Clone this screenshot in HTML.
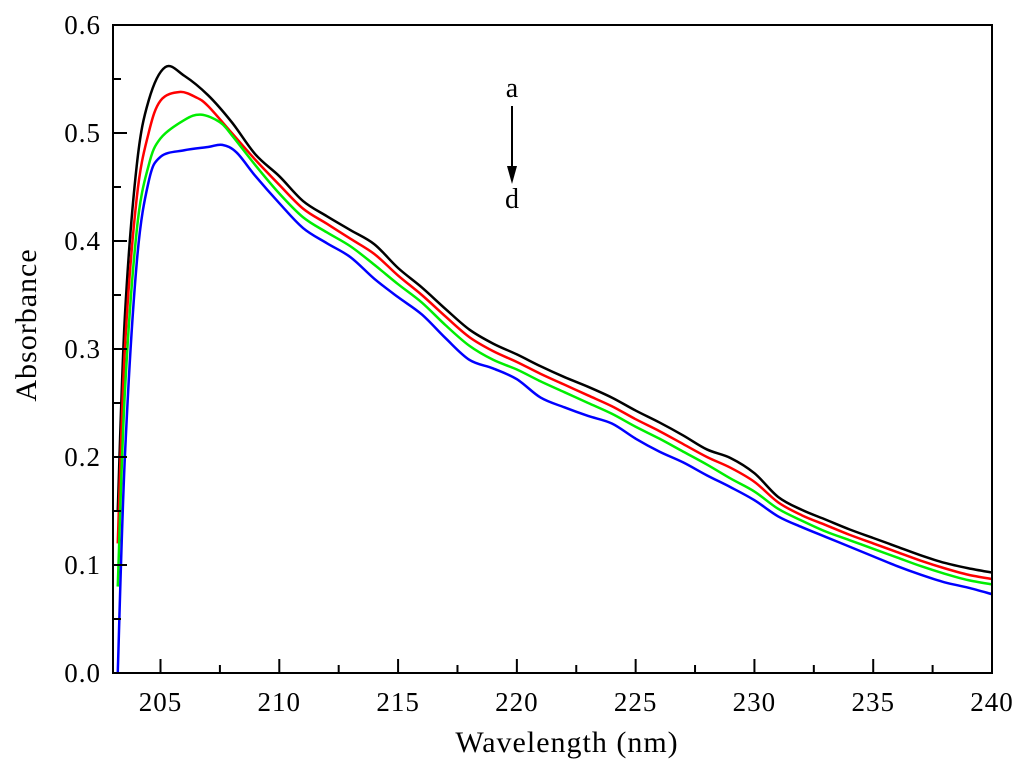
<!DOCTYPE html>
<html><head><meta charset="utf-8"><style>
body{margin:0;background:#fff;}
svg{display:block;font-family:"Liberation Serif",serif;}
</style></head><body>
<svg id="chart" width="1024" height="772" viewBox="0 0 1024 772">
<g id="series"></g>
<g id="axes"></g>
<text x="512" y="97" font-size="28" text-anchor="middle">a</text>
<line x1="512" y1="106" x2="512" y2="170" stroke="#000" stroke-width="2"/>
<polygon points="507,166 517,166 512,184" fill="#000"/>
<text x="512" y="208" font-size="28" text-anchor="middle">d</text>
<text x="567" y="752" font-size="30" letter-spacing="1" text-anchor="middle">Wavelength (nm)</text>
<text transform="translate(36,325) rotate(-90)" font-size="30" letter-spacing="1" text-anchor="middle">Absorbance</text>
</svg>
<script>
const xTicks=[205,210,215,220,225,230,235,240];
const yTicks=[0.0,0.1,0.2,0.3,0.4,0.5,0.6];
const xsA=[203.2,203.5,204,204.5,205.2,206,207,208,209,210,211,212,213,214,215,216,217,218,219,220,221,222,223,224,225,226,227,228,229,230,231,232,233,234,235,236,237,238,239,240];
const ysA=[0.15,0.33,0.47,0.53,0.561,0.553,0.535,0.51,0.48,0.46,0.437,0.423,0.41,0.397,0.375,0.357,0.337,0.318,0.305,0.295,0.284,0.274,0.265,0.255,0.243,0.232,0.22,0.207,0.199,0.185,0.163,0.151,0.142,0.133,0.125,0.117,0.109,0.102,0.097,0.093];
const xsB=[203.2,203.5,204,204.5,205,205.8,206.5,207,208,209,210,211,212,213,214,215,216,217,218,219,220,221,222,223,224,225,226,227,228,229,230,231,232,233,234,235,236,237,238,239,240];
const ysB=[0.12,0.3,0.44,0.5,0.53,0.538,0.533,0.525,0.5,0.475,0.452,0.43,0.416,0.402,0.388,0.368,0.35,0.33,0.311,0.298,0.288,0.277,0.267,0.257,0.247,0.235,0.224,0.212,0.2,0.19,0.177,0.158,0.146,0.137,0.128,0.12,0.112,0.104,0.097,0.091,0.087];
const xsC=[203.2,203.5,204,204.5,205,206,206.7,207.5,208,209,210,211,212,213,214,215,216,217,218,219,220,221,222,223,224,225,226,227,228,229,230,231,232,233,234,235,236,237,238,239,240];
const ysC=[0.08,0.26,0.41,0.47,0.495,0.512,0.517,0.51,0.498,0.47,0.444,0.422,0.408,0.395,0.378,0.36,0.343,0.322,0.303,0.29,0.281,0.27,0.26,0.25,0.24,0.228,0.217,0.205,0.193,0.18,0.168,0.152,0.141,0.131,0.123,0.115,0.107,0.099,0.092,0.086,0.082];
const xsD=[203.2,203.5,204,204.5,205,206,207,207.6,208.2,209,210,211,212,213,214,215,216,217,218,219,220,221,222,223,224,225,226,227,228,229,230,231,232,233,234,235,236,237,238,239,240];
const ysD=[0.0,0.2,0.38,0.455,0.478,0.484,0.487,0.489,0.482,0.46,0.435,0.412,0.398,0.385,0.365,0.348,0.332,0.31,0.29,0.282,0.272,0.255,0.246,0.238,0.231,0.217,0.205,0.195,0.183,0.172,0.16,0.145,0.135,0.126,0.117,0.108,0.099,0.091,0.084,0.079,0.073];
const L=113,R=992,T=25,B=673,X0=203,X1=240,Y0=0,Y1=0.6;
const sx=v=>L+(v-X0)/(X1-X0)*(R-L);
const sy=v=>B-(v-Y0)/(Y1-Y0)*(B-T);
const NS='http://www.w3.org/2000/svg';
function mk(t,a,p){const e=document.createElementNS(NS,t);for(const k in a)e.setAttribute(k,a[k]);p.appendChild(e);return e;}
function pathD(xs,ys){const p=xs.map((x,i)=>[sx(x),sy(ys[i])]);let d='M'+p[0][0]+','+p[0][1];
for(let i=0;i<p.length-1;i++){const p0=p[Math.max(0,i-1)],p1=p[i],p2=p[i+1],p3=p[Math.min(p.length-1,i+2)];
const c1=[p1[0]+(p2[0]-p0[0])/6,p1[1]+(p2[1]-p0[1])/6],c2=[p2[0]-(p3[0]-p1[0])/6,p2[1]-(p3[1]-p1[1])/6];
d+=`C${c1[0]},${c1[1]} ${c2[0]},${c2[1]} ${p2[0]},${p2[1]}`;}return d;}
const sg=document.getElementById('series');
const S=[[xsA,ysA,'#000','series-a'],[xsB,ysB,'#ff0000','series-b'],[xsC,ysC,'#00ee00','series-c'],[xsD,ysD,'#0000ff','series-d']];
S.forEach(s=>{const e=mk('path',{d:pathD(s[0],s[1]),fill:'none',stroke:s[2],'stroke-width':2.5},sg);

});
const ax=document.getElementById('axes');
const fr=mk('rect',{x:L,y:T,width:R-L,height:B-T,fill:'none',stroke:'#000','stroke-width':2},ax);


xTicks.forEach(v=>{const x=sx(v);mk('line',{x1:x,x2:x,y1:B,y2:B-14,stroke:'#000','stroke-width':2},ax);
const m=sx(v-2.5);if(m>L)mk('line',{x1:m,x2:m,y1:B,y2:B-8,stroke:'#000','stroke-width':2},ax);
const t=mk('text',{x:x,y:B+38,'font-size':27,'letter-spacing':1,'text-anchor':'middle'},ax);t.textContent=v;

});
yTicks.forEach(v=>{const y=sy(v);mk('line',{x1:L,x2:L+14,y1:y,y2:y,stroke:'#000','stroke-width':2},ax);
if(v>0){const m=sy(v-0.05);mk('line',{x1:L,x2:L+8,y1:m,y2:m,stroke:'#000','stroke-width':2},ax);}
const t=mk('text',{x:L-12,y:y+9,'font-size':27,'letter-spacing':1,'text-anchor':'end'},ax);t.textContent=v.toFixed(1);

});
</script>
</body></html>
